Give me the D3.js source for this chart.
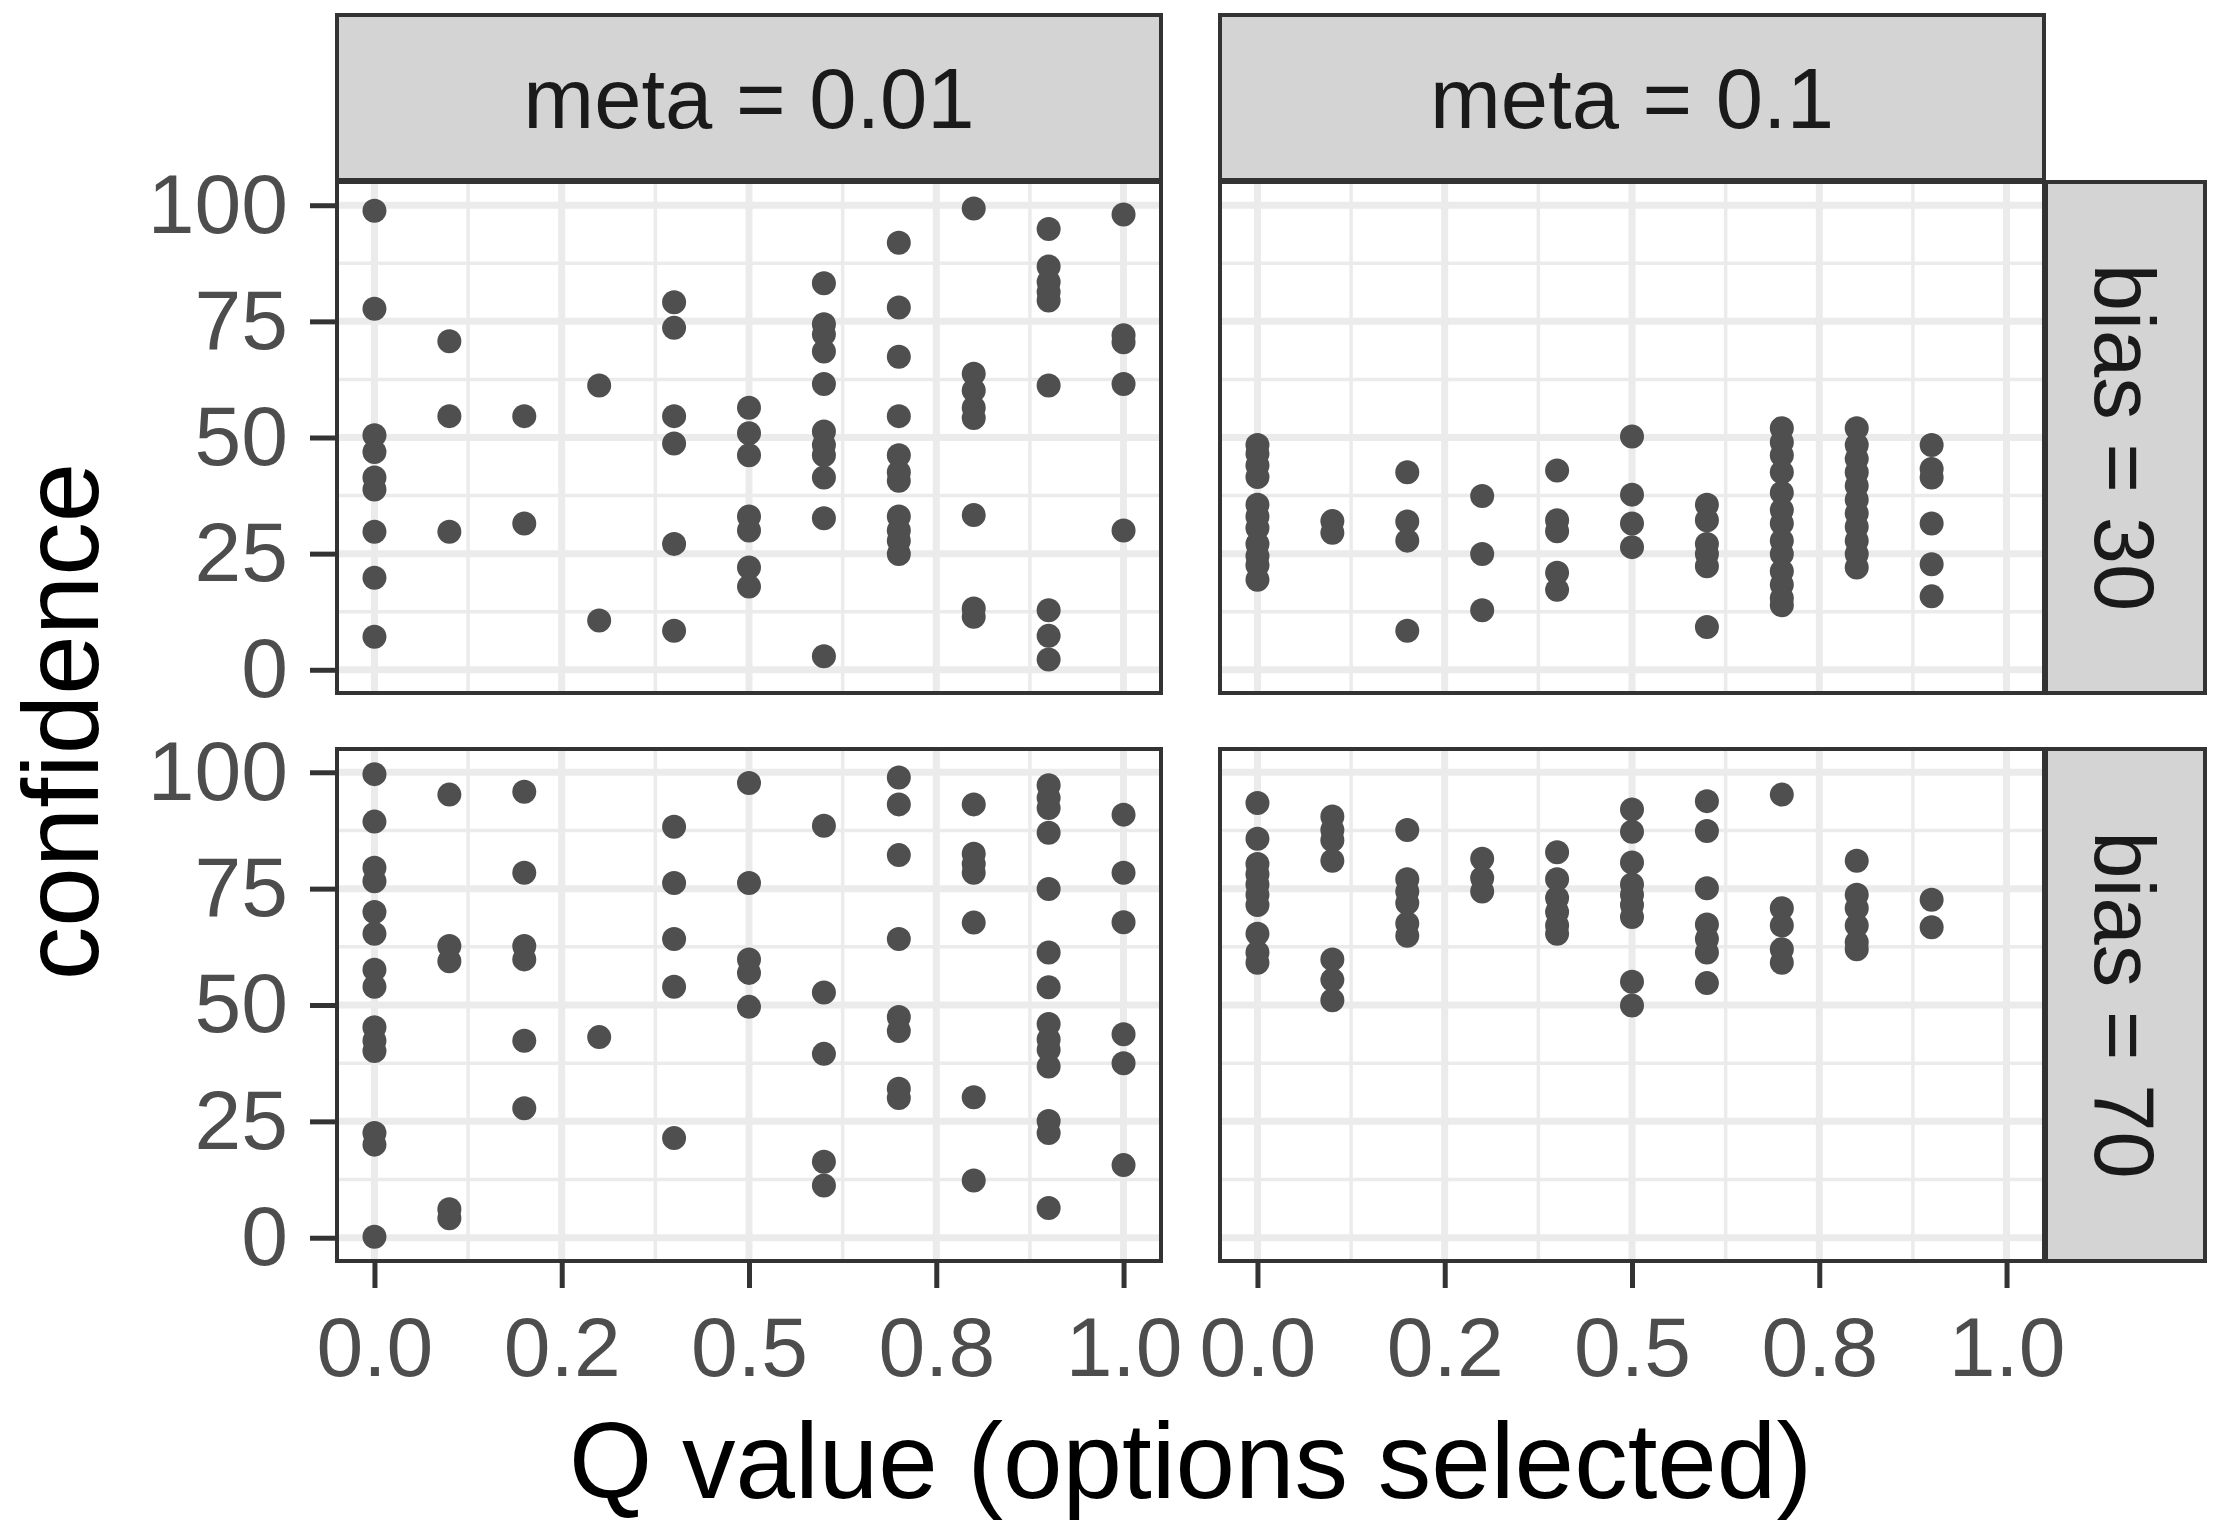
<!DOCTYPE html>
<html>
<head>
<meta charset="utf-8">
<script src="https://cdn.jsdelivr.net/npm/d3@7"></script>
<style>
  html, body { margin: 0; padding: 0; background: #fff; }
  svg { display: block; font-family: "Liberation Sans", Arial, Helvetica, sans-serif; }
</style>
</head>
<body>
<script>
const WIDTH = 2217
const HEIGHT = 1533

// Q value columns (x) shared by all panels
const Q_VALUES = [0, 0.1, 0.2, 0.3, 0.4, 0.5, 0.6, 0.7, 0.8, 0.9, 1.0]
const X_TICKS = [0, 0.25, 0.5, 0.75, 1]
const X_TICK_LABELS = ['0.0', '0.2', '0.5', '0.8', '1.0']
const X_MINOR = [0.125, 0.375, 0.625, 0.875]
const Y_TICKS = [0, 25, 50, 75, 100]
const Y_MINOR = [12.5, 37.5, 62.5, 87.5]

const META_LABELS = ['meta = 0.01', 'meta = 0.1']
const BIAS_LABELS = ['bias = 30', 'bias = 70']

// confidence values, one list per Q value column
const conf_m001_b30 = [
  [98.8, 77.7, 50.5, 46.9, 41.4, 38.8, 29.7, 19.8, 7.1],
  [70.7, 54.6, 29.7],
  [54.6, 31.5],
  [61.2, 10.6],
  [79.1, 73.6, 54.6, 48.7, 27.1, 8.4],
  [56.4, 50.9, 46.2, 33.0, 30.0, 22.0, 17.9],
  [83.2, 74.4, 72.2, 68.5, 61.5, 51.3, 48.4, 46.2, 41.4, 32.6, 2.9],
  [91.9, 78.0, 67.4, 54.6, 46.2, 42.5, 40.7, 33.0, 30.0, 27.8, 24.9],
  [99.3, 63.7, 60.1, 56.4, 54.2, 33.3, 13.2, 11.4],
  [94.9, 86.8, 83.5, 81.3, 79.5, 61.2, 12.8, 7.3, 2.2],
  [98.0, 72.0, 70.5, 61.5, 30.0]
]
const conf_m01_b30 = [
  [48.4, 46.5, 44.0, 41.5, 35.5, 33.0, 30.5, 27.1, 24.5, 22.5, 19.4],
  [32.0, 29.5],
  [42.5, 31.9, 27.8, 8.4],
  [37.4, 24.9, 12.8],
  [42.9, 32.2, 29.8, 20.9, 17.2],
  [50.2, 37.7, 31.5, 26.4],
  [35.5, 32.2, 27.1, 24.9, 22.3, 9.2],
  [52.0, 49.0, 46.2, 42.5, 38.1, 34.4, 31.5, 27.8, 24.9, 21.2, 18.3, 15.4, 13.9],
  [52.0, 48.4, 45.4, 42.5, 39.6, 36.6, 33.7, 30.8, 27.8, 24.9, 22.0],
  [48.4, 43.2, 41.4, 31.5, 22.7, 15.8],
  []
]
const conf_m001_b70 = [
  [99.6, 89.4, 79.5, 76.6, 70.0, 65.3, 57.6, 53.9, 45.2, 42.3, 40.1, 22.5, 20.0, 0.2],
  [95.2, 62.7, 59.4, 6.1, 4.2],
  [95.8, 78.4, 62.7, 59.8, 42.3, 27.8],
  [43.1],
  [88.3, 76.2, 64.2, 53.9, 21.4],
  [97.7, 76.2, 59.8, 56.9, 49.6],
  [88.5, 52.7, 39.5, 16.3, 11.2],
  [98.9, 93.1, 82.2, 64.2, 47.4, 44.4, 32.0, 30.0],
  [93.1, 82.5, 80.3, 78.4, 67.7, 30.2, 12.3],
  [97.2, 94.5, 92.3, 87.0, 74.9, 61.3, 53.8, 45.9, 42.6, 40.4, 36.8, 25.1, 22.5, 6.4],
  [90.9, 78.4, 67.8, 43.7, 37.5, 15.6]
]
const conf_m01_b70 = [
  [93.4, 85.7, 80.3, 78.1, 75.9, 73.7, 71.5, 65.3, 61.3, 59.1],
  [90.5, 87.6, 85.4, 81.0, 59.8, 55.4, 51.0],
  [87.6, 77.0, 74.4, 71.9, 67.5, 64.9],
  [81.4, 77.3, 74.4],
  [82.8, 77.0, 73.0, 70.0, 67.1, 65.3],
  [92.0, 87.2, 80.6, 75.9, 73.7, 71.5, 68.9, 55.0, 49.9],
  [93.8, 87.4, 75.1, 67.3, 64.2, 61.3, 54.7],
  [95.2, 70.8, 67.1, 62.0, 59.1],
  [81.0, 73.7, 70.8, 67.1, 63.5, 62.0],
  [72.6, 66.7],
  []
]

// facet layout
const COLS = [{ x0: 337, x1: 1161 }, { x0: 1220, x1: 2044 }]
const ROWS = [{ y0: 182, y1: 693 }, { y0: 749, y1: 1261 }]
const STRIP_TOP = { y0: 15, y1: 180 }
const STRIP_RIGHT = { x0: 2046, x1: 2205 }

const BORDER = '#333333'
const STRIP_FILL = '#d4d4d4'
const GRID = '#ebebeb'
const POINT = '#4f4f4f'
const TICK_TEXT = '#4d4d4d'
const TICK_FS = 84
const STRIP_FS = 85
const TITLE_FS = 107

const panels = [
  { r: 0, c: 0, data: conf_m001_b30 },
  { r: 0, c: 1, data: conf_m01_b30 },
  { r: 1, c: 0, data: conf_m001_b70 },
  { r: 1, c: 1, data: conf_m01_b70 }
]

const svg = d3.select('body').append('svg')
  .attr('width', WIDTH)
  .attr('height', HEIGHT)

svg.append('rect').attr('width', WIDTH).attr('height', HEIGHT).attr('fill', '#fff')

panels.forEach(p => {
  const col = COLS[p.c], row = ROWS[p.r]
  const x = d3.scaleLinear().domain([-0.05, 1.05]).range([col.x0, col.x1])
  const y = d3.scaleLinear().domain([-5, 105]).range([row.y1, row.y0])
  const g = svg.append('g')

  // grid: minor first, major on top
  g.selectAll('.xminor').data(X_MINOR).enter().append('line')
    .attr('x1', d => x(d)).attr('x2', d => x(d))
    .attr('y1', row.y0).attr('y2', row.y1)
    .attr('stroke', GRID).attr('stroke-width', 3.5)
  g.selectAll('.yminor').data(Y_MINOR).enter().append('line')
    .attr('x1', col.x0).attr('x2', col.x1)
    .attr('y1', d => y(d)).attr('y2', d => y(d))
    .attr('stroke', GRID).attr('stroke-width', 3.5)
  g.selectAll('.xmajor').data(X_TICKS).enter().append('line')
    .attr('x1', d => x(d)).attr('x2', d => x(d))
    .attr('y1', row.y0).attr('y2', row.y1)
    .attr('stroke', GRID).attr('stroke-width', 7)
  g.selectAll('.ymajor').data(Y_TICKS).enter().append('line')
    .attr('x1', col.x0).attr('x2', col.x1)
    .attr('y1', d => y(d)).attr('y2', d => y(d))
    .attr('stroke', GRID).attr('stroke-width', 7)

  const pts = p.data.flatMap((vals, i) => vals.map(v => ({ q: Q_VALUES[i], c: v })))
  g.selectAll('circle').data(pts).enter().append('circle')
    .attr('cx', d => x(d.q))
    .attr('cy', d => y(d.c))
    .attr('r', 12)
    .attr('fill', POINT)

  g.append('rect')
    .attr('x', col.x0).attr('y', row.y0)
    .attr('width', col.x1 - col.x0).attr('height', row.y1 - row.y0)
    .attr('fill', 'none').attr('stroke', BORDER).attr('stroke-width', 4)

  // axes on outer panels only
  if (p.c === 0) {
    const ax = svg.append('g')
      .attr('transform', `translate(${col.x0},0)`)
      .call(d3.axisLeft(y).tickValues(Y_TICKS).tickSize(27).tickPadding(22))
    styleAxis(ax)
  }
  if (p.r === 1) {
    const ax = svg.append('g')
      .attr('transform', `translate(0,${row.y1})`)
      .call(d3.axisBottom(x).tickValues(X_TICKS).tickSize(27).tickPadding(28)
        .tickFormat((d, i) => X_TICK_LABELS[i]))
    styleAxis(ax)
  }
})

function styleAxis (ax) {
  ax.select('.domain').remove()
  ax.selectAll('.tick line').attr('stroke', BORDER).attr('stroke-width', 5)
  ax.selectAll('.tick text')
    .attr('fill', TICK_TEXT)
    .style('font-size', TICK_FS + 'px')
    .style('font-family', '"Liberation Sans", Arial, sans-serif')
}

// top strips
COLS.forEach((col, i) => {
  svg.append('rect')
    .attr('x', col.x0).attr('y', STRIP_TOP.y0)
    .attr('width', col.x1 - col.x0).attr('height', STRIP_TOP.y1 - STRIP_TOP.y0)
    .attr('fill', STRIP_FILL).attr('stroke', BORDER).attr('stroke-width', 4)
  svg.append('text')
    .attr('x', (col.x0 + col.x1) / 2)
    .attr('y', (STRIP_TOP.y0 + STRIP_TOP.y1) / 2 + STRIP_FS * 0.36)
    .attr('text-anchor', 'middle')
    .attr('fill', '#1a1a1a')
    .style('font-size', STRIP_FS + 'px')
    .text(META_LABELS[i])
})

// right strips
ROWS.forEach((row, i) => {
  svg.append('rect')
    .attr('x', STRIP_RIGHT.x0).attr('y', row.y0)
    .attr('width', STRIP_RIGHT.x1 - STRIP_RIGHT.x0).attr('height', row.y1 - row.y0)
    .attr('fill', STRIP_FILL).attr('stroke', BORDER).attr('stroke-width', 4)
  const cx = (STRIP_RIGHT.x0 + STRIP_RIGHT.x1) / 2 - STRIP_FS * 0.36
  const cy = (row.y0 + row.y1) / 2
  svg.append('text')
    .attr('transform', `translate(${cx},${cy}) rotate(90)`)
    .attr('text-anchor', 'middle')
    .attr('fill', '#1a1a1a')
    .style('font-size', STRIP_FS + 'px')
    .text(BIAS_LABELS[i])
})

// axis titles
svg.append('text')
  .attr('x', (COLS[0].x0 + COLS[1].x1) / 2)
  .attr('y', 1498)
  .attr('text-anchor', 'middle')
  .attr('fill', '#000')
  .style('font-size', TITLE_FS + 'px')
  .text('Q value (options selected)')

svg.append('text')
  .attr('transform', `translate(98,${(ROWS[0].y0 + ROWS[1].y1) / 2}) rotate(-90)`)
  .attr('text-anchor', 'middle')
  .attr('fill', '#000')
  .style('font-size', TITLE_FS + 'px')
  .text('confidence')
</script>
</body>
</html>
